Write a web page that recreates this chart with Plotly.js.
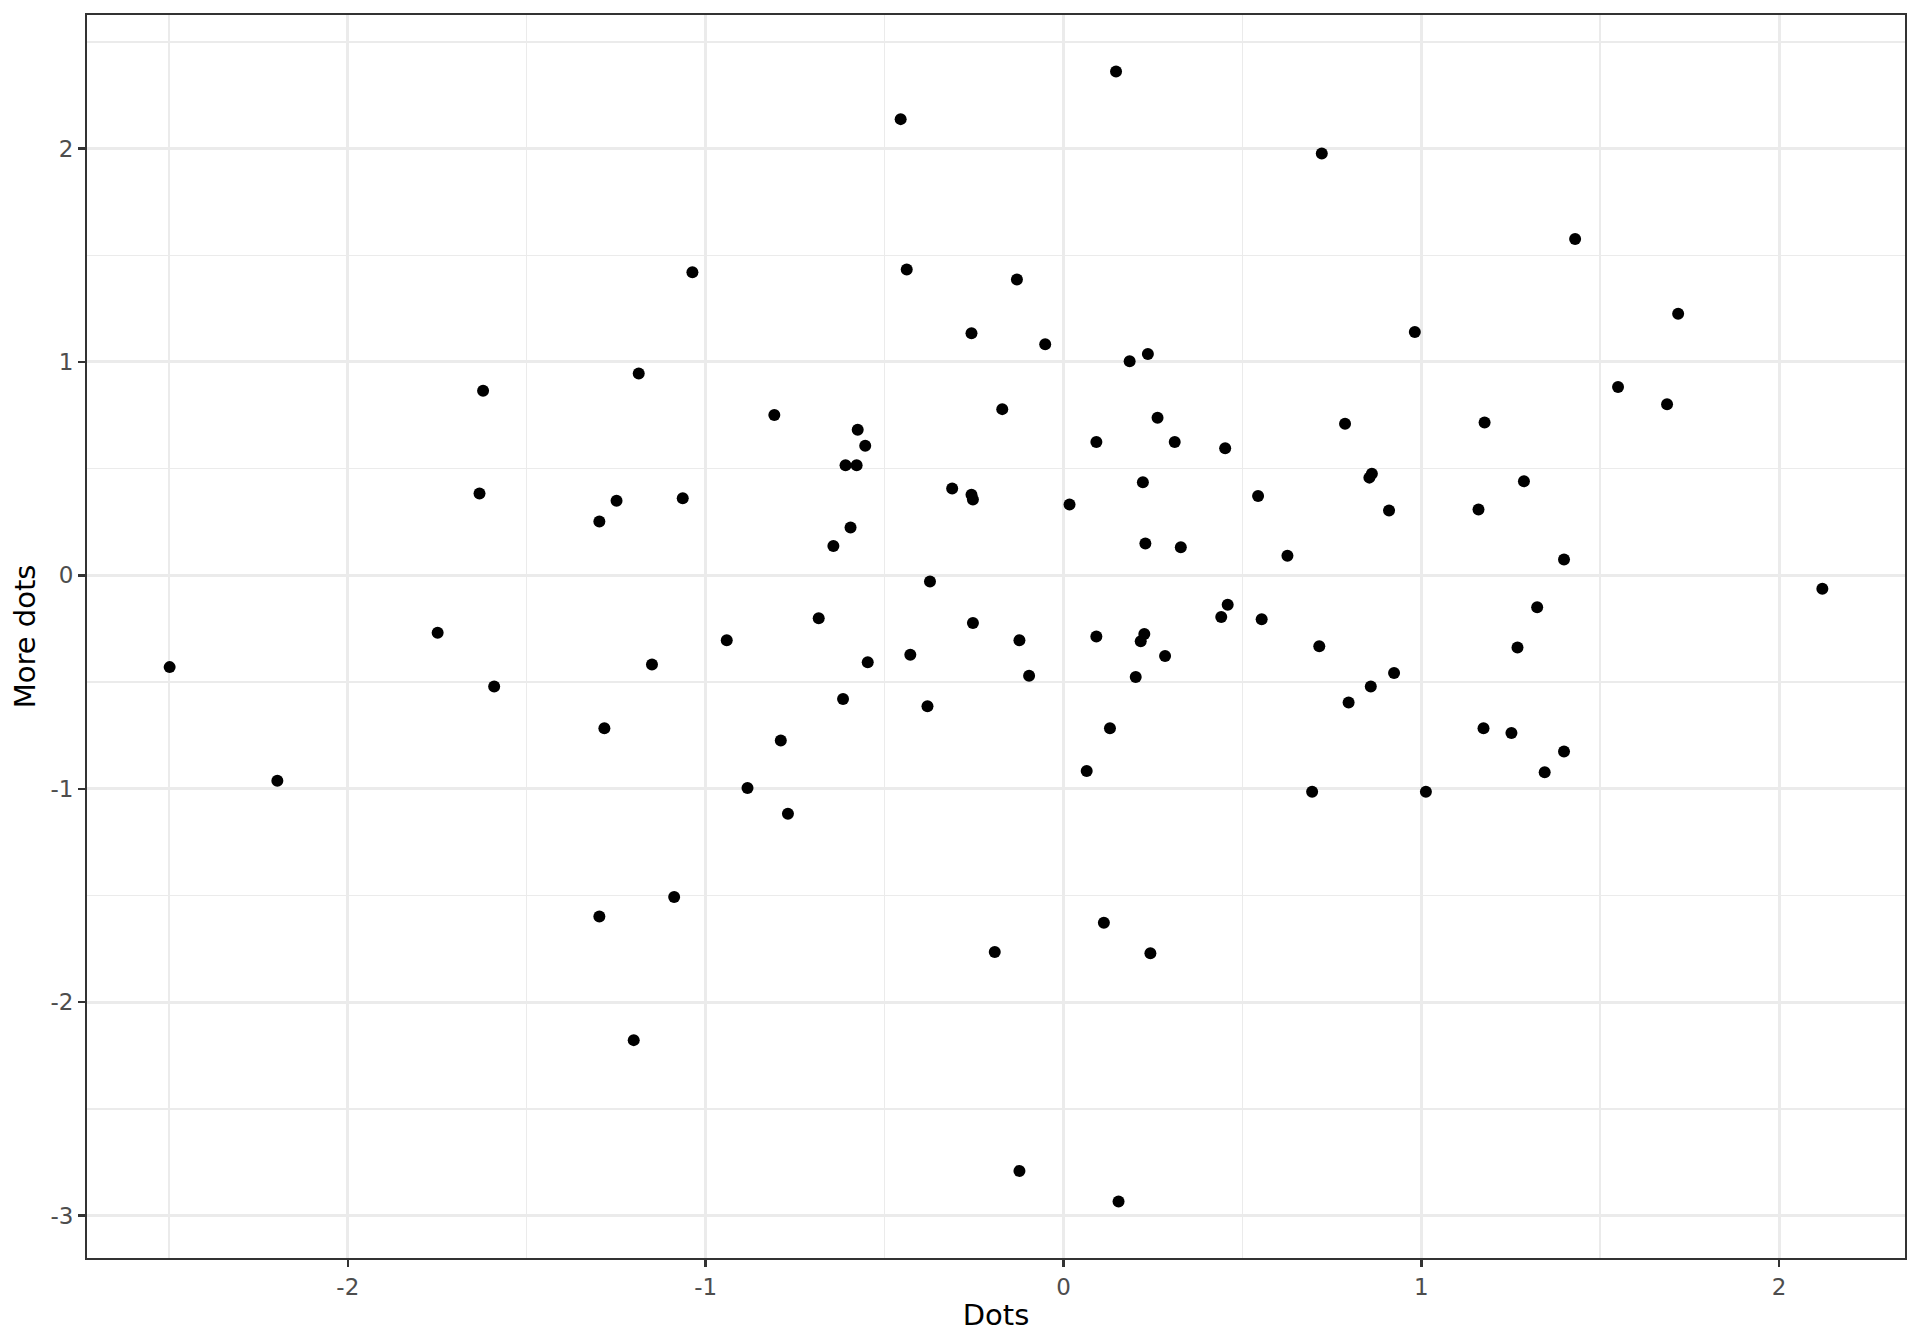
<!DOCTYPE html>
<html>
<head>
<meta charset="utf-8">
<script src="https://cdn.plot.ly/plotly-3.0.1.min.js"></script>
<style>html,body{margin:0;padding:0;background:#fff;}#chart{width:1920px;height:1344px;}</style>
</head>
<body>
<div id="chart"></div>
<script>
const dotsX = [-2.498,-2.197,-1.749,-1.622,-1.632,-1.591,-1.297,-1.249,-1.283,-1.297,
  -1.201,-1.187,-1.150,-1.088,-1.064,-1.037,-0.941,-0.883,-0.808,-0.790,
  -0.770,-0.684,-0.643,-0.616,-0.609,-0.595,-0.578,-0.575,-0.554,-0.547,
  -0.455,-0.438,-0.428,-0.380,-0.373,-0.311,-0.257,-0.257,-0.253,-0.253,
  -0.192,-0.171,-0.130,-0.123,-0.123,-0.096,-0.051,0.017,0.065,0.092,
  0.092,0.113,0.130,0.147,0.154,0.185,0.202,0.216,0.222,0.226,
  0.229,0.236,0.243,0.263,0.284,0.311,0.328,0.441,0.452,0.459,
  0.544,0.554,0.626,0.695,0.715,0.722,0.787,0.797,0.855,0.859,
  0.862,0.910,0.924,0.982,1.013,1.160,1.174,1.177,1.252,1.269,
  1.287,1.324,1.345,1.399,1.399,1.430,1.550,1.687,1.718,2.121];
const moreDotsY = [-0.430,-0.963,-0.269,0.865,0.384,-0.521,0.252,0.350,-0.716,-1.599,
  -2.178,0.946,-0.418,-1.507,0.361,1.421,-0.304,-0.997,0.751,-0.774,
  -1.117,-0.201,0.138,-0.579,0.516,0.224,0.516,0.682,0.607,-0.407,
  2.138,1.433,-0.372,-0.613,-0.029,0.407,1.135,0.378,0.355,-0.223,
  -1.765,0.779,1.387,-0.304,-2.791,-0.470,1.083,0.332,-0.917,0.625,
  -0.287,-1.628,-0.716,2.361,-2.934,1.003,-0.476,-0.309,0.436,-0.275,
  0.149,1.037,-1.771,0.739,-0.378,0.625,0.132,-0.195,0.596,-0.138,
  0.372,-0.206,0.092,-1.014,-0.332,1.977,0.711,-0.596,0.458,-0.521,
  0.476,0.304,-0.458,1.140,-1.014,0.309,-0.716,0.716,-0.739,-0.338,
  0.441,-0.149,-0.923,-0.825,0.074,1.576,0.883,0.802,1.226,-0.063];
const xTickVals = [-2,-1,0,1,2];
const xTickText = ["-2","-1","0","1","2"];
const yTickVals = [-3,-2,-1,0,1,2];
const yTickText = ["-3","-2","-1","0","1","2"];

const axisCommon = {
  showline: true, mirror: true, linecolor: '#333333', linewidth: 2,
  ticks: 'outside', ticklen: 7, tickwidth: 2.5, tickcolor: '#333333',
  showgrid: true, gridcolor: '#EBEBEB', gridwidth: 3,
  zeroline: false,
  tickfont: {family: 'DejaVu Sans', size: 23, color: '#4D4D4D'},
  minor: {dtick: 0.5, showgrid: true, gridcolor: '#EBEBEB', gridwidth: 1.5, ticks: ''}
};

const trace = {
  type: 'scatter', mode: 'markers', x: dotsX, y: moreDotsY,
  marker: {color: '#000000', size: 12, line: {width: 0}},
  hoverinfo: 'x+y'
};

const layout = {
  width: 1920, height: 1344,
  paper_bgcolor: '#ffffff', plot_bgcolor: '#ffffff',
  margin: {l: 87, r: 15, t: 15, b: 86},
  showlegend: false,
  font: {family: 'DejaVu Sans', color: '#000000'},
  xaxis: Object.assign({}, axisCommon, {
    range: [-2.729, 2.352], tickvals: xTickVals, ticktext: xTickText,
    title: {text: 'Dots', font: {family: 'DejaVu Sans', size: 29, color: '#000000'}, standoff: 6}
  }),
  yaxis: Object.assign({}, axisCommon, {
    range: [-3.199, 2.626], tickvals: yTickVals, ticktext: yTickText,
    title: {text: 'More dots', font: {family: 'DejaVu Sans', size: 29, color: '#000000'}, standoff: 6}
  })
};
Plotly.newPlot('chart', [trace], layout, {displayModeBar: false, staticPlot: true});
</script>
</body>
</html>
